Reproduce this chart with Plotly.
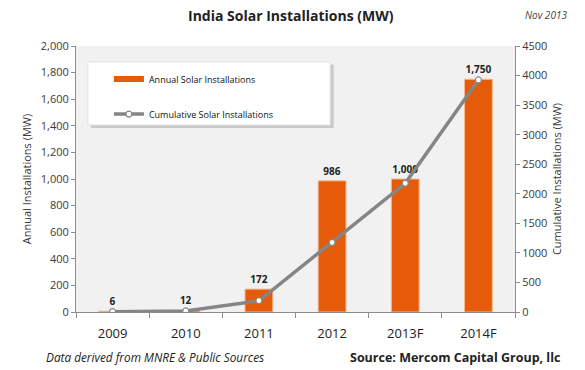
import plotly.graph_objects as go

years = ["2009", "2010", "2011", "2012", "2013F", "2014F"]
annual_mw = [6, 12, 172, 986, 1000, 1750]
cumulative_mw = [6, 18, 190, 1176, 2176, 3926]

left_ticks = list(range(0, 2001, 200))
right_ticks = list(range(0, 4501, 500))

ORANGE = "#E55B0A"
GREY = "#858585"
TXT = "#3a3a3a"
FONT = "Open Sans"

fig = go.Figure()

fig.add_trace(go.Bar(
    x=years, y=annual_mw, width=0.38,
    marker=dict(color=ORANGE, line=dict(color="#F6B98C", width=1)),
    texttemplate="<b>%{y:,}</b>", textposition="outside", cliponaxis=False,
    textfont=dict(family=FONT, size=10, color="#222"),
    showlegend=False, yaxis="y",
))
fig.add_trace(go.Scatter(
    x=years, y=cumulative_mw, mode="lines+markers",
    line=dict(color=GREY, width=3.5),
    marker=dict(size=6, color="white", line=dict(color=GREY, width=1.2)),
    showlegend=False, yaxis="y2",
))

# legend entries
fig.add_trace(go.Scatter(
    x=[None], y=[None], mode="lines", name="Annual Solar Installations",
    line=dict(color=ORANGE, width=6), legendgroup="a",
))
fig.add_trace(go.Scatter(
    x=[None], y=[None], mode="lines+markers", name="Cumulative Solar Installations",
    line=dict(color=GREY, width=3.5), legendgroup="b",
    marker=dict(size=6, color="white", line=dict(color=GREY, width=1.2)),
))

axis_common = dict(
    showgrid=False, zeroline=False, showline=True, linecolor="#8c8c8c", linewidth=1,
    ticks="outside", ticklen=4, tickcolor="#8c8c8c",
    tickfont=dict(family=FONT, size=11, color=TXT),
)

fig.update_layout(
    width=585, height=370,
    margin=dict(l=76, r=70, t=46, b=58),
    paper_bgcolor="white", plot_bgcolor="#F1F1F1",
    font=dict(family=FONT, color=TXT),
    bargap=0.6,
    xaxis=dict(
        showgrid=False, showline=True, linecolor="#8c8c8c", ticks="outside",
        tickson="boundaries", ticklen=5, tickcolor="#8c8c8c",
        ticklabelstandoff=9,
        tickfont=dict(family=FONT, size=13, color="#222"),
    ),
    yaxis=dict(
        range=[0, 2000], tickvals=left_ticks, tickformat=",",
        title=dict(text="Annual Installations (MW)", font=dict(family=FONT, size=11, color=TXT), standoff=6),
        **axis_common,
    ),
    yaxis2=dict(
        range=[0, 4500], tickvals=right_ticks, overlaying="y", side="right",
        title=dict(text="Cumulative Installations (MW)", font=dict(family=FONT, size=11, color=TXT), standoff=6),
        **axis_common,
    ),
    legend=dict(
        x=0.075, y=0.93, xanchor="left", yanchor="top",
        bgcolor="rgba(0,0,0,0)", borderwidth=0,
        font=dict(family=FONT, size=9, color="#111"),
        tracegroupgap=16, itemwidth=30,
    ),
    shapes=[
        # legend box shadow and panel
        dict(type="rect", xref="paper", yref="paper", x0=0.034, x1=0.587, y0=0.692, y1=0.93,
             fillcolor="rgba(0,0,0,0.16)", line=dict(width=0), layer="above"),
        dict(type="rect", xref="paper", yref="paper", x0=0.027, x1=0.579, y0=0.703, y1=0.94,
             fillcolor="white", line=dict(color="#e2e2e2", width=1), layer="above"),
    ],
    annotations=[
        dict(text="<b>India Solar Installations (MW)</b>", xref="paper", yref="paper",
             x=0.49, y=1.115, xanchor="center", yanchor="middle", showarrow=False,
             font=dict(family=FONT, size=14, color="#222")),
        dict(text="<i>Nov 2013</i>", xref="paper", yref="paper", x=1.07, y=1.115,
             xanchor="center", yanchor="middle", showarrow=False,
             font=dict(family=FONT, size=10, color="#444")),
        dict(text="<i>Data derived from MNRE &amp; Public Sources</i>", xref="paper", yref="paper",
             x=-0.073, y=-0.17, xanchor="left", yanchor="middle", showarrow=False,
             font=dict(family=FONT, size=11.8, color="#222")),
        dict(text="<b>Source: Mercom Capital Group, llc</b>", xref="paper", yref="paper",
             x=0.62, y=-0.17, xanchor="left", yanchor="middle", showarrow=False,
             font=dict(family=FONT, size=12.5, color="#222")),
    ],
)

fig.write_html("out.html")
